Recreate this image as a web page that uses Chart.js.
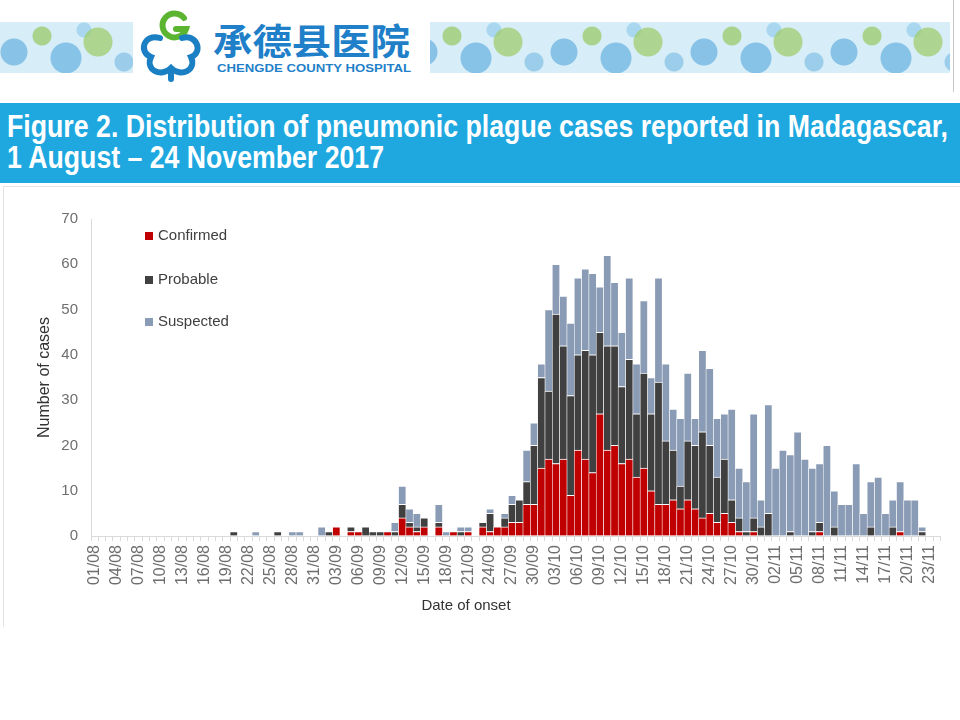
<!DOCTYPE html>
<html>
<head>
<meta charset="utf-8">
<script src="https://cdn.jsdelivr.net/npm/chart.js@4.4.1/dist/chart.umd.min.js"></script>
<style>
  body { margin:0; width:960px; height:720px; background:#fff; position:relative; overflow:hidden; font-family:"Liberation Sans", Arial, sans-serif; }
  .strip { position:absolute; top:22px; height:51px; background-color:#d7edf7;
    background-image:
      radial-gradient(circle at 14px 30px, rgba(110,180,225,.75) 0 13px, transparent 14px),
      radial-gradient(circle at 42px 14px, rgba(150,200,95,.7) 0 9px, transparent 10px),
      radial-gradient(circle at 66px 36px, rgba(115,185,228,.8) 0 15px, transparent 16px),
      radial-gradient(circle at 98px 20px, rgba(160,205,110,.75) 0 14px, transparent 15px),
      radial-gradient(circle at 124px 40px, rgba(130,192,230,.7) 0 9px, transparent 10px),
      radial-gradient(circle at 84px 8px, rgba(140,200,235,.6) 0 7px, transparent 8px);
    background-size:140px 51px; }
  #band { position:absolute; left:0; top:103px; }
  #frame { position:absolute; top:186px; left:3px; width:957px; height:440px; border-top:1px solid #e4e4e4; border-left:1px solid #e4e4e4; }
  #wrap { position:absolute; top:188px; left:0; width:960px; height:437px; }
  #edge { position:absolute; left:953px; top:0; width:1px; height:92px; background:#c8c8c8; }
</style>
</head>
<body>
<div class="strip" style="left:0;width:133px"></div>
<div class="strip" style="left:430px;width:520px;background-position:-20px 0"></div>
<div id="edge"></div>
<svg style="position:absolute;left:130px;top:0" width="300" height="90">
  <path d="M 54 18 A 12 12 0 1 0 56 29 L 46 29" fill="none" stroke="#5cb531" stroke-width="6" stroke-linecap="round"/>
  <path d="M 30 38 C 14 33 8 52 21 57 C 15 70 31 78 41 68 C 51 78 67 70 61 57 C 74 52 66 33 52 38 M 41 68 L 41 79"
        fill="none" stroke="#1b7fc4" stroke-width="6" stroke-linecap="round"/>
  <text x="83" y="55" textLength="197" lengthAdjust="spacingAndGlyphs" font-family="Noto Sans CJK SC" font-weight="700" font-size="36" fill="#1f7fc8">承德县医院</text>
  <text x="87" y="72" textLength="194" lengthAdjust="spacingAndGlyphs" font-family="Liberation Sans" font-weight="700" font-size="11" fill="#1f7fc8">CHENGDE  COUNTY  HOSPITAL</text>
</svg>
<svg id="band" width="960" height="80">
  <rect x="0" y="0" width="960" height="80" fill="#1fa8e0"/>
  <text x="7" y="34" textLength="941" lengthAdjust="spacingAndGlyphs" font-family="Liberation Sans" font-weight="700" font-size="31" fill="#ffffff">Figure 2. Distribution of pneumonic plague cases reported in Madagascar,</text>
  <text x="7" y="65" textLength="377" lengthAdjust="spacingAndGlyphs" font-family="Liberation Sans" font-weight="700" font-size="31" fill="#ffffff">1 August – 24 November 2017</text>
</svg>
<div id="frame"></div>
<div id="wrap"><canvas id="chart"></canvas></div>
<script>
// date of onset, 1 Aug - 24 Nov 2017
const dates = [
  '01/08','02/08','03/08','04/08','05/08','06/08','07/08','08/08','09/08','10/08','11/08','12/08','13/08','14/08','15/08','16/08',
  '17/08','18/08','19/08','20/08','21/08','22/08','23/08','24/08','25/08','26/08','27/08','28/08','29/08','30/08','31/08',
  '01/09','02/09','03/09','04/09','05/09','06/09','07/09','08/09','09/09','10/09','11/09','12/09','13/09','14/09','15/09',
  '16/09','17/09','18/09','19/09','20/09','21/09','22/09','23/09','24/09','25/09','26/09','27/09','28/09','29/09','30/09',
  '01/10','02/10','03/10','04/10','05/10','06/10','07/10','08/10','09/10','10/10','11/10','12/10','13/10','14/10','15/10','16/10',
  '17/10','18/10','19/10','20/10','21/10','22/10','23/10','24/10','25/10','26/10','27/10','28/10','29/10','30/10','31/10',
  '01/11','02/11','03/11','04/11','05/11','06/11','07/11','08/11','09/11','10/11','11/11','12/11',
  '13/11','14/11','15/11','16/11','17/11','18/11','19/11','20/11','21/11','22/11','23/11','24/11'
];

// one line per month: Aug, Sep, Oct, Nov
const confirmed = [
  0,0,0,0,0,0,0,0,0,0,0,0,0,0,0,0,0,0,0,0,0,0,0,0,0,0,0,0,0,0,0,
  0,0,2,0,1,1,0,0,0,1,0,4,2,1,2,0,2,0,1,0,1,0,2,1,2,2,3,3,7,7,
  15,17,16,17,9,19,17,14,27,19,20,16,17,13,15,10,7,7,8,6,8,6,4,5,3,5,3,1,0,1,0,
  0,0,0,0,0,0,0,1,0,0,0,0,0,0,0,0,0,0,1,0,0,0,0,0
];
const probable = [
  0,0,0,0,0,0,0,0,0,0,0,0,0,0,0,0,0,0,0,1,0,0,0,0,0,1,0,0,0,0,0,
  0,1,0,0,1,0,2,1,1,0,1,3,1,1,2,0,1,0,0,1,0,0,1,4,0,2,4,5,5,13,
  20,15,33,25,22,21,24,26,18,23,22,17,22,14,21,17,27,14,11,5,13,14,19,15,10,12,5,3,1,3,2,
  5,0,0,1,0,0,1,2,0,2,0,0,0,0,2,0,0,2,0,0,0,1,0,0
];
const suspected = [
  0,0,0,0,0,0,0,0,0,0,0,0,0,0,0,0,0,0,0,0,0,0,1,0,0,0,0,1,1,0,0,
  2,0,0,0,0,0,0,0,0,0,2,4,3,3,0,0,4,1,0,1,1,0,0,1,0,1,2,0,7,5,
  3,18,11,11,16,17,18,18,10,20,14,12,18,11,16,8,23,17,9,15,15,6,18,17,13,10,20,11,11,23,6,
  24,15,19,17,23,17,14,13,20,8,7,7,16,5,10,13,5,6,11,8,8,1,0,0
];

const seriesNames = ['Confirmed', 'Probable', 'Suspected'];
const seriesColors = ['#c00000', '#404040', '#8a9bb5'];
const family = '"Liberation Sans", Arial, sans-serif';

// legend inside the plot + x axis title
const overlay = {
  id: 'overlay',
  afterDraw(chart) {
    const { ctx, chartArea: a } = chart;
    ctx.save();
    ctx.font = '15px ' + family;
    ctx.textBaseline = 'middle';
    const rowY = [17, 61, 103];
    seriesNames.forEach((name, k) => {
      const y = a.top + rowY[k];
      ctx.fillStyle = seriesColors[k];
      ctx.fillRect(a.left + 54, y - 4, 8, 8);
      ctx.fillStyle = '#404040';
      ctx.fillText(name, a.left + 67, y);
    });
    ctx.fillStyle = '#333333';
    ctx.textAlign = 'center';
    ctx.fillText('Date of onset', a.left + 375, a.bottom + 70);
    ctx.restore();
  }
};

const chart = new Chart(document.getElementById('chart'), {
  type: 'bar',
  data: {
    labels: dates,
    datasets: [confirmed, probable, suspected].map((d, k) => ({
      label: seriesNames[k],
      data: d,
      backgroundColor: seriesColors[k],
      borderColor: '#ffffff',
      borderWidth: { top: 1, left: 0.6, right: 0.6, bottom: 0 },
      borderSkipped: false,
      categoryPercentage: 1,
      barPercentage: 1
    }))
  },
  options: {
    responsive: true,
    maintainAspectRatio: false,
    animation: false,
    layout: { padding: { top: 31, right: 11, left: 0, bottom: 0 } },
    plugins: { legend: { display: false }, tooltip: { enabled: false } },
    scales: {
      x: {
        stacked: true,
        grid: { drawOnChartArea: false, drawTicks: true, tickLength: 5, color: '#d9d9d9', offset: true },
        border: { color: '#d9d9d9' },
        ticks: {
          autoSkip: false, maxRotation: 90, minRotation: 90, padding: 4,
          color: '#6e6e6e', font: { size: 16, family: family },
          callback: (v, i) => (i % 3 === 0 ? dates[i] : '')
        },
        afterFit: (s) => { s.height = 89; }
      },
      y: {
        stacked: true, min: 0, max: 70,
        ticks: { stepSize: 10, padding: 13, color: '#6e6e6e', font: { size: 15, family: family } },
        grid: { drawOnChartArea: false, drawTicks: false },
        border: { color: '#d9d9d9' },
        title: { display: true, text: 'Number of cases', color: '#333333', font: { size: 16, family: family }, padding: { top: 35, bottom: 0 } },
        afterFit: (s) => { s.width = 91; }
      }
    }
  },
  plugins: [overlay]
});
</script>
</body>
</html>
